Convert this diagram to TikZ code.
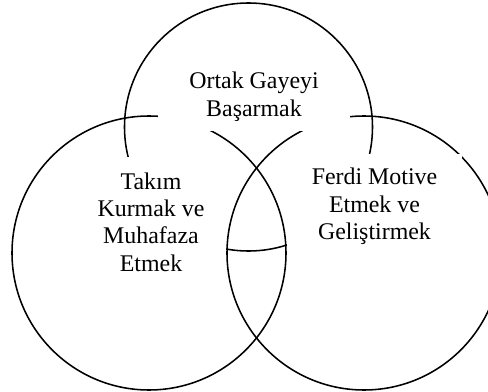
\documentclass[tikz,border=0pt]{standalone}
\usepackage{fontspec}
\setmainfont{Liberation Serif}
\usepackage{tikz}

\begin{document}
\begin{tikzpicture}[halka/.style={line width=1.1pt},
  kutu/.style={fill=white, inner sep=0pt, align=center, font=\fontsize{17}{19.5}\selectfont}]
\useasboundingbox (0,0) rectangle (12.2,9.775);
\clip (0,0) rectangle (12.2,9.775);
% the three circles
\draw[halka] (6.2125,6.6) circle (3.1);
\draw[halka] (3.725,3.45) circle (3.425);
\draw[halka] (9.1,3.45) circle (3.425);
% white text boxes on top of them
\node[kutu, minimum width=4.8cm, minimum height=1.725cm] (gaye) at (6.35,7.36) {Ortak Gayeyi\\Başarmak};
\node[kutu, minimum width=3.75cm, minimum height=3.25cm] (takim) at (3.775,4.225) {Takım\\Kurmak ve\\Muhafaza\\Etmek};
\node[kutu, minimum width=4.375cm, minimum height=2.625cm] (ferdi) at (9.3625,4.6125) {Ferdi Motive\\Etmek ve\\Geliştirmek};
\end{tikzpicture}
\end{document}
